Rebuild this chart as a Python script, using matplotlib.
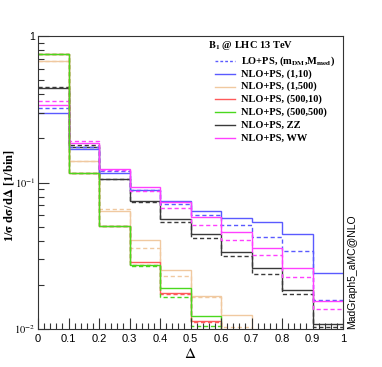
import numpy as np
import matplotlib
matplotlib.use("Agg")
import matplotlib.pyplot as plt
from matplotlib.ticker import FixedLocator, NullFormatter, LogLocator

edges = [0.0, 0.1, 0.2, 0.3, 0.4, 0.5, 0.6, 0.7, 0.8, 0.9, 1.0]

# (1,10)
nlo_1_10 = [0.297, 0.168, 0.1156, 0.0895, 0.0751, 0.0642, 0.0573, 0.054, 0.0443, 0.024]
lo_1_10 = [0.32, 0.176, 0.1205, 0.089, 0.0713, 0.0597, 0.0513, 0.0423, 0.0342, 0.0158]
# (1,500)
nlo_1_500 = [0.678, 0.141, 0.0639, 0.0405, 0.0252, 0.0169, 0.0124, 0.0, 0.0, 0.0]
lo_1_500 = [0.67, 0.141, 0.066, 0.0358, 0.0229, 0.0165, 0.0104, 0.0, 0.0, 0.0]
# (500,10)
nlo_500_10 = [0.75, 0.117, 0.0505, 0.0285, 0.0177, 0.0114, 0.0, 0.0, 0.0, 0.0]
lo_500_10 = [0.75, 0.117, 0.0505, 0.0275, 0.0172, 0.0111, 0.0, 0.0, 0.0, 0.0]
# (500,500)
nlo_500_500 = [0.753, 0.117, 0.0505, 0.0274, 0.019, 0.0123, 0.0, 0.0, 0.0, 0.0]
lo_500_500 = [0.75, 0.117, 0.0505, 0.0269, 0.0166, 0.0105, 0.0, 0.0, 0.0, 0.0]
# ZZ
nlo_zz = [0.444, 0.176, 0.106, 0.075, 0.0561, 0.0443, 0.0337, 0.026, 0.0184, 0.0109]
lo_zz = [0.451, 0.179, 0.105, 0.074, 0.0541, 0.0416, 0.0316, 0.0236, 0.0173, 0.0103]
# WW
nlo_ww = [0.337, 0.185, 0.123, 0.0927, 0.0735, 0.0585, 0.0457, 0.036, 0.0262, 0.0156]
lo_ww = [0.36, 0.191, 0.121, 0.0873, 0.0667, 0.0513, 0.0405, 0.032, 0.0225, 0.0138]

x_ticks = [0, 0.1, 0.2, 0.3, 0.4, 0.5, 0.6, 0.7, 0.8, 0.9, 1]
x_ticklabels = ["0", "0.1", "0.2", "0.3", "0.4", "0.5", "0.6", "0.7", "0.8", "0.9", "1"]

legend_title = r"$\mathbf{B_1}$ @ LHC 13 TeV"
labels = [r"LO+PS, (m$_{\mathbf{DM}}$,M$_{\mathbf{med}}$)", "NLO+PS, (1,10)", "NLO+PS, (1,500)",
          "NLO+PS, (500,10)", "NLO+PS, (500,500)", "NLO+PS, ZZ", "NLO+PS, WW"]

c_blue = "#5a5aff"
c_tan = "#f0c9a0"
c_red = "#ff5a5a"
c_green = "#4ad81e"
c_gray = "#3a3a3a"
c_mag = "#ff40ff"

plt.rcParams['mathtext.fontset'] = 'stix'
fig = plt.figure(figsize=(3.82, 3.67), dpi=100)
ax = fig.add_axes([38/382, 1-329/367, (343-38)/382, (329-36)/367])

def clip(v):
    return [max(a, 1e-5) for a in v]

dash = (0, (3, 2))
lw = 1.0
series = [
    (lo_1_500, c_tan, dash), (nlo_1_500, c_tan, '-'),
    (lo_zz, c_gray, dash), (nlo_zz, c_gray, '-'),
    (lo_1_10, c_blue, dash), (nlo_1_10, c_blue, '-'),
    (lo_ww, c_mag, dash), (nlo_ww, c_mag, '-'),
    (nlo_500_10, c_red, '-'), (lo_500_10, c_red, dash),
    (nlo_500_500, c_green, '-'), (lo_500_500, c_green, dash),
]
for vals, col, ls in series:
    ax.stairs(clip(vals), edges, baseline=None, color=col, linestyle=ls, linewidth=lw)

ax.set_yscale('log')
ax.set_xlim(0, 1)
ax.set_ylim(0.01, 1)

ax.set_xticks(x_ticks)
ax.set_xticklabels(x_ticklabels)
ax.xaxis.set_minor_locator(FixedLocator(np.arange(0, 1.0001, 0.02)))
ax.yaxis.set_major_locator(FixedLocator([0.01, 0.1, 1]))
ax.set_yticklabels([r"$10^{-2}$", r"$10^{-1}$", "1"])
ax.yaxis.set_minor_locator(LogLocator(base=10, subs=np.arange(2, 10)))
ax.yaxis.set_minor_formatter(NullFormatter())

ax.tick_params(which='both', direction='in', top=False, right=False, colors='#333333',
               labelcolor='black', labelsize=8)
ax.tick_params(which='major', length=8, width=0.8)
ax.tick_params(which='minor', length=4, width=0.8)
ax.tick_params(axis='y', pad=2, labelsize=7.5)
for lab in ax.get_xticklabels() + ax.get_yticklabels():
    lab.set_family('Liberation Sans')

for s in ax.spines.values():
    s.set_color('#333333')
    s.set_linewidth(0.8)

fig.text(190/382, 1-353/367, r"$\Delta$", fontsize=11, ha='center', va='center')
fig.text(9/382, 1-195/367, r"1/$\mathbf{\sigma}$ d$\mathbf{\sigma}$/d$\mathbf{\Delta}$ [1/bin]",
         fontsize=9, family='Liberation Serif', fontweight='bold', rotation=90,
         ha='center', va='center')

# legend (drawn manually in figure coordinates)
fig.text(208/382, 1-46/367, legend_title, fontsize=7.5, family='Liberation Serif',
         fontweight='bold', va='center', ha='left')
leg_cols = [c_blue, c_blue, c_tan, c_red, c_green, c_gray, c_mag]
leg_ls = [(0, (2, 1.5)), '-', '-', '-', '-', '-', '-']
for i, (lab, col, ls) in enumerate(zip(labels, leg_cols, leg_ls)):
    y = 1 - (61 + i * 12.8) / 367
    fig.add_artist(matplotlib.lines.Line2D([215/382, 235/382], [y, y], color=col,
                                           linestyle=ls, linewidth=lw))
    fig.text(241/382, y, lab, fontsize=7.5, family='Liberation Serif',
             fontweight='bold', va='center', ha='left')

fig.text(352/382, 1-329/367, "MadGraph5_aMC@NLO", rotation=90, fontsize=7.5,
         family='Liberation Sans', ha='center', va='bottom')

fig.savefig("out.png", dpi=100)
